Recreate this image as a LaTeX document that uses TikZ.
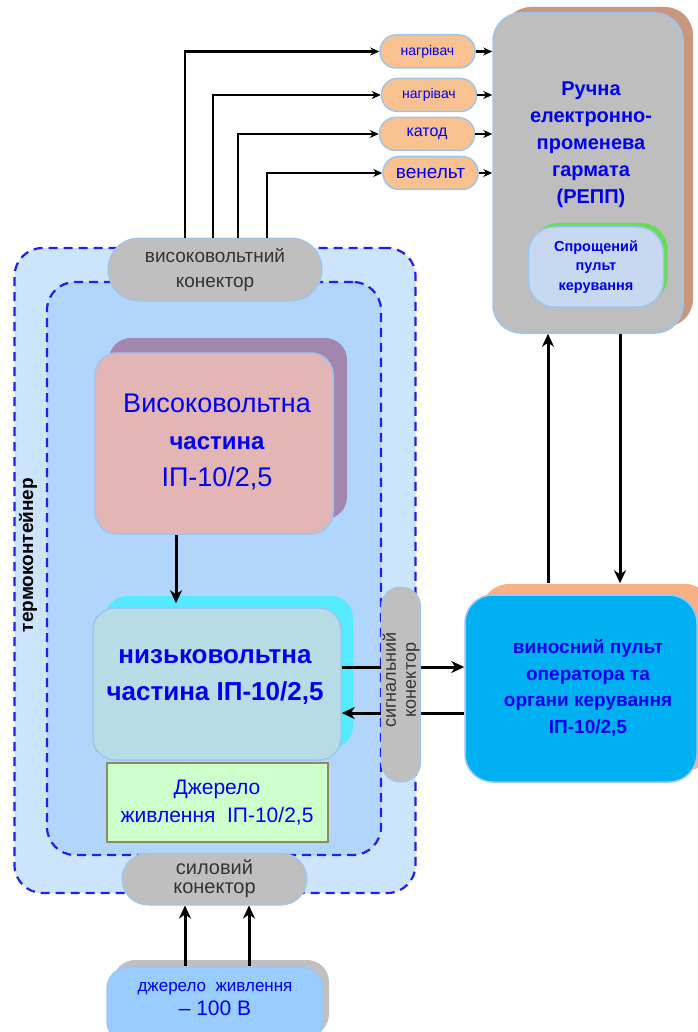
\documentclass[tikz,border=0pt]{standalone}
\usepackage{fontspec}
\setmainfont{Liberation Sans}
\usetikzlibrary{arrows.meta,shadows}

\definecolor{wallfill}{HTML}{CCE4FC}
\definecolor{roomfill}{HTML}{B2D5FB}
\definecolor{wallline}{HTML}{1F1FF0}
\definecolor{edge}{HTML}{9CC6F2}
\definecolor{plugfill}{HTML}{BFBFBF}
\definecolor{pinfill}{HTML}{F8C190}
\definecolor{gunfill}{HTML}{BEBEBE}
\definecolor{gunshade}{HTML}{C9977C}
\definecolor{panelfill}{HTML}{C6D9F1}
\definecolor{panelshade}{HTML}{66DD55}
\definecolor{hvfill}{HTML}{E4B5B5}
\definecolor{hvshade}{HTML}{A386AE}
\definecolor{lvfill}{HTML}{B8DCE6}
\definecolor{lvshade}{HTML}{55EAFF}
\definecolor{psfill}{HTML}{CCFFCC}
\definecolor{psline}{HTML}{8C8C5A}
\definecolor{rcfill}{HTML}{00B0F0}
\definecolor{rcshade}{HTML}{F8B085}
\definecolor{srcfill}{HTML}{99CCFF}
\definecolor{srcshade}{HTML}{C0C0C0}
\definecolor{darktext}{HTML}{333333}
\definecolor{bluetext}{HTML}{0000F0}

\newcommand{\fs}[2]{\fontsize{#1}{#2}\selectfont}

\begin{document}
\begin{tikzpicture}[x=1pt,y=-1pt,
    wall/.style={draw=wallline,line width=2.2pt,dash pattern=on 9pt off 6pt,rounded corners=28pt},
    block/.style={draw=edge,line width=1.5pt,rounded corners=22pt,inner sep=0pt},
    plug/.style={fill=plugfill,draw=edge,line width=1pt,inner sep=0pt,text=darktext,align=center},
    pin/.style={block,fill=pinfill,rounded corners=16pt,minimum width=95pt,minimum height=33pt,text=bluetext},
    lbl/.style={text=bluetext,align=center,inner sep=0pt},
    wire/.style={->,line width=2.2pt,>={Stealth[length=9pt,width=8pt]}},
    flow/.style={->,line width=3pt,>={Stealth[length=13pt,width=12pt,inset=4pt]}}]
  \useasboundingbox (0,0) rectangle (697,1032);
  % термоконтейнер
  \node[wall,fill=wallfill,minimum width=401pt,minimum height=645pt] (box) at (215,570.5) {};
  \node[wall,fill=roomfill,minimum width=334pt,minimum height=573pt] (room) at (214,568.5) {};
  \node[rotate=90,font=\bfseries\fs{19}{20}] (boxname) at (28,555) {термоконтейнер};
  \node[plug,rounded corners=31pt,minimum width=214pt,minimum height=63pt,font=\fs{19}{25}] (hvc) at (215,269.5) {високовольтний\\конектор};
  % блоки всередині
  \node[block,fill=hvfill,general shadow={fill=hvshade,shadow xshift=14pt,shadow yshift=15pt},
    minimum width=238pt,minimum height=181pt] (hv) at (214,443.5) {};
  \node[lbl,font=\fs{27}{37}] (hvname) at (217,442) {Високовольтна\\{\bfseries\fs{24}{37}частина}\\ІП-10/2,5};
  \node[block,fill=lvfill,general shadow={fill=lvshade,shadow xshift=12pt,shadow yshift=12pt},
    minimum width=248pt,minimum height=152pt] (lv) at (217,684) {};
  \node[lbl,font=\bfseries\fs{26}{37}] (lvname) at (215,677) {низьковольтна\\частина ІП-10/2,5};
  \node[draw=psline,line width=2pt,fill=psfill,minimum width=221pt,minimum height=79pt,
    lbl,font=\fs{21}{28}] (ps) at (217,802.5) {Джерело\\живлення~~ІП-10/2,5};
  % виносний пульт
  \node[block,fill=rcfill,rounded corners=28pt,general shadow={fill=rcshade,shadow xshift=16pt,shadow yshift=11pt},
    minimum width=232pt,minimum height=187pt] (rc) at (581,688.5) {};
  \node[lbl,font=\bfseries\fs{19}{26.5}] (rcname) at (588,688) {виносний пульт\\оператора та\\органи керування\\ІП-10/2,5};
  \draw[flow] ([yshift=17pt]lv.east) -- ([yshift=17pt]lv.east -| rc.west);
  \draw[flow] ([yshift=-29pt]lv.east -| rc.west) -- ([yshift=-29pt]lv.east);
  \node[plug,rounded corners=19pt,minimum width=39pt,minimum height=195pt] (sig) at (401,684.5) {};
  \node[rotate=90,align=center,text=darktext,font=\fs{18}{20}] (signame) at (401,680) {сигнальний\\конектор};
  \node[plug,rounded corners=26pt,minimum width=185pt,minimum height=52pt,font=\fs{20}{19}] (pwr) at (214.5,879) {силовий\\конектор};
  % джерело
  \node[block,fill=srcfill,general shadow={fill=srcshade,shadow xshift=6pt,shadow yshift=7pt},
    minimum width=216pt,minimum height=76pt] (src) at (215,1005) {};
  \node[lbl,font=\fs{17}{24}] (srcname) at (215,999) {джерело~~живлення\\{\fs{21}{24}– 100 В}};
  \draw[flow] ([xshift=-30pt]src.north) -- ([xshift=-30pt]src.north |- pwr.south);
  \draw[flow] ([xshift=34pt]src.north) -- ([xshift=34pt]src.north |- pwr.south);
  \draw[flow,shorten >=4pt] ([xshift=-38pt]hv.south) -- ([xshift=-38pt]hv.south |- lv.north);
  % гармата
  \node[block,fill=gunfill,rounded corners=28pt,general shadow={fill=gunshade,shadow xshift=10pt,shadow yshift=6pt},
    minimum width=190pt,minimum height=320pt] (gun) at (588,173) {};
  \node[lbl,font=\bfseries\fs{20}{27}] (gunname) at (591,145) {Ручна\\електронно-\\променева\\гармата\\(РЕПП)};
  \node[block,fill=panelfill,rounded corners=26pt,general shadow={fill=panelshade,shadow xshift=4pt,shadow yshift=4pt},
    minimum width=135pt,minimum height=80pt,lbl,font=\bfseries\fs{14.5}{19.5}] (panel) at (596,267) {Спрощений\\пульт\\керування};
  \draw[flow,shorten <=11pt] ([xshift=-40pt]gun.south |- rc.north) -- ([xshift=-40pt]gun.south);
  \draw[flow,shorten >=11pt] ([xshift=32pt]gun.south) -- ([xshift=32pt]gun.south |- rc.north);
  % виводи
  \node[pin,font=\fs{14}{16}] (heat1) at (427.5,51.5) {нагрівач};
  \node[pin,font=\fs{14}{16}] (heat2) at (429,95) {нагрівач};
  \node[pin,font=\fs{16}{18}] (cath) at (427,134) {катод};
  \node[pin,font=\fs{19}{20}] (wehn) at (430.5,173) {венельт};
  \draw[wire] ([xshift=-30pt]hvc.north) |- (heat1);
  \draw[wire] ([xshift=-2pt]hvc.north) |- (heat2);
  \draw[wire] ([xshift=23pt]hvc.north) |- (cath);
  \draw[wire] ([xshift=52pt]hvc.north) |- (wehn);
  \draw[wire] (heat1) -- (heat1 -| gun.west);
  \draw[wire] (heat2) -- (heat2 -| gun.west);
  \draw[wire] (cath) -- (cath -| gun.west);
  \draw[wire] (wehn) -- (wehn -| gun.west);
\end{tikzpicture}
\end{document}
